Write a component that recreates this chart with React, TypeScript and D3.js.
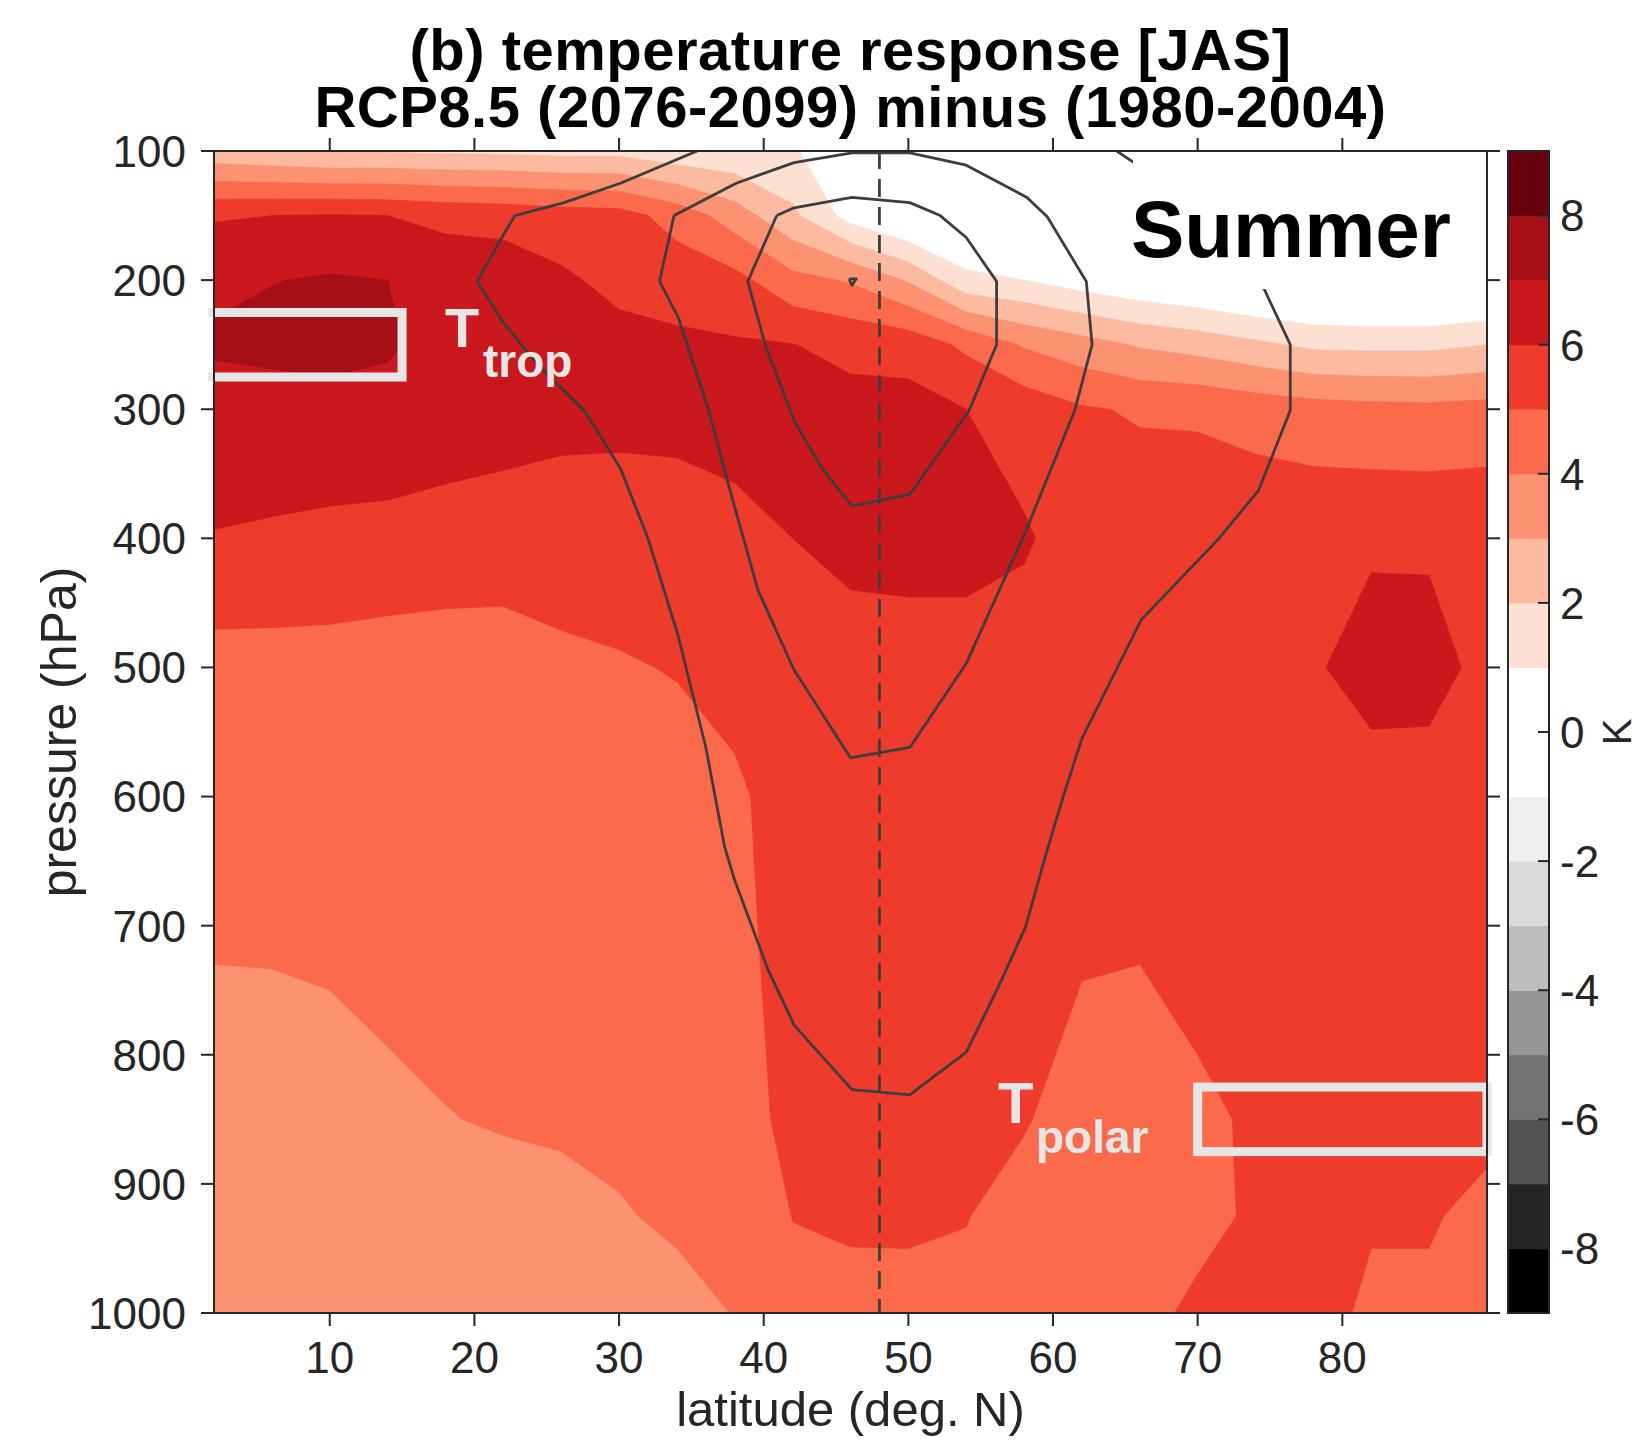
import React from 'react';
import * as d3 from 'd3';

const W = 1639;
const H = 1441;
const M = { left: 214, top: 151, right: 1487, bottom: 1313 };
const FONT = '"Liberation Sans", Arial, Helvetica, sans-serif';
const INK = '#262626';

// model grid (deg N) and pressure levels (hPa)
const lats = [2, 6, 10, 14, 18, 22, 26, 30, 34, 38, 42, 46, 50, 54, 58, 62, 66, 70, 74, 78, 82, 86, 90];
const levels = [100, 150, 200, 250, 300, 400, 500, 600, 700, 850, 925, 1000];

// temperature response (K), one column per latitude, top (100 hPa) to bottom (1000 hPa)
const fieldByLat = [
  [2.3, 5.9, 6.85, 7.1, 6.68, 5.95, 4.6, 4.35, 4.1, 3.6, 3.4, 3.3],
  [2.1, 6.0, 6.97, 7.3, 6.5, 5.9, 4.6, 4.35, 4.1, 3.65, 3.4, 3.3],
  [1.9, 6.05, 7.1, 7.4, 6.6, 5.8, 4.6, 4.4, 4.15, 3.7, 3.4, 3.3],
  [1.9, 6.0, 7.0, 7.15, 6.6, 5.75, 4.5, 4.45, 4.2, 3.88, 3.5, 3.35],
  [1.85, 5.8, 6.5, 6.6, 6.55, 5.6, 4.5, 4.45, 4.25, 3.98, 3.6, 3.4],
  [1.8, 5.7, 6.5, 6.55, 6.45, 5.5, 4.55, 4.45, 4.3, 4.05, 3.75, 3.5],
  [1.7, 5.5, 6.15, 6.3, 6.28, 5.5, 4.8, 4.5, 4.35, 4.1, 3.8, 3.55],
  [1.7, 5.4, 5.75, 6.3, 6.25, 5.5, 4.92, 4.6, 4.4, 4.15, 3.95, 3.6],
  [1.3, 4.6, 5.6, 6.17, 6.3, 5.5, 5.05, 4.6, 4.45, 4.25, 4.1, 3.8],
  [1.2, 3.5, 5.3, 6.1, 6.4, 5.7, 5.3, 4.85, 4.7, 4.35, 4.2, 4.02],
  [1.1, 2.2, 4.3, 6.02, 6.4, 6.0, 5.6, 5.4, 5.45, 5.4, 5.02, 4.7],
  [0.3, 0.6, 3.9, 5.75, 6.3, 6.2, 5.7, 5.6, 5.6, 5.5, 5.07, 4.85],
  [-0.2, -0.3, 2.9, 5.6, 6.35, 6.25, 5.7, 5.6, 5.55, 5.4, 5.1, 4.8],
  [-0.2, -0.3, 1.25, 4.8, 6.0, 6.25, 5.7, 5.55, 5.5, 5.3, 5.02, 4.85],
  [-0.2, -0.3, 1.0, 3.9, 5.6, 6.1, 5.6, 5.5, 5.35, 5.05, 4.75, 4.5],
  [-0.2, -0.3, 0.5, 3.4, 5.1, 5.6, 5.6, 5.5, 5.12, 4.7, 4.5, 4.4],
  [-0.2, -0.3, 0.1, 2.9, 4.9, 5.6, 5.6, 5.5, 5.1, 4.6, 4.5, 4.7],
  [-0.2, -0.3, -0.2, 2.6, 4.85, 5.7, 5.6, 5.5, 5.3, 4.85, 4.7, 5.2],
  [-0.2, -0.3, -0.6, 2.2, 4.6, 5.75, 5.6, 5.5, 5.4, 5.1, 5.15, 5.3],
  [-0.2, -0.3, -0.8, 1.8, 4.4, 5.75, 5.85, 5.6, 5.5, 5.4, 5.3, 5.2],
  [-0.2, -0.3, -0.9, 1.75, 4.3, 5.8, 6.55, 5.4, 5.5, 5.35, 5.05, 4.9],
  [-0.2, -0.3, -0.9, 1.75, 4.25, 5.8, 6.5, 5.4, 5.5, 5.35, 5.05, 4.9],
  [-0.2, -0.3, -0.7, 2.0, 4.35, 5.8, 5.6, 5.5, 5.4, 5.15, 4.85, 4.7],
];

// colour levels
const binEdges = [-9, -8, -7, -6, -5, -4, -3, -2, -1, 0, 1, 2, 3, 4, 5, 6, 7, 8, 9];
const binColors = [
  '#000000', '#252525', '#525252', '#737373', '#969696', '#bdbdbd', '#d9d9d9', '#efefef', '#ffffff',
  '#ffffff', '#fee0d2', '#fcbba1', '#fc9272', '#fb6a4a', '#ef3b2c', '#cb181d', '#a50f15', '#67000d',
];

const xTicks = [10, 20, 30, 40, 50, 60, 70, 80];
const yTicks = [100, 200, 300, 400, 500, 600, 700, 800, 900, 1000];
const cbTicks = [-8, -6, -4, -2, 0, 2, 4, 6, 8];

// zonal wind contours [lat, hPa]
const jetOuter = [
  [35.4, 100], [30.1, 125], [26.2, 140], [22.8, 150], [21.9, 167], [20.2, 201], [22.0, 233], [24.5, 267],
  [27.6, 301], [30.1, 346], [32.0, 400], [34.1, 476], [36.0, 562], [37.3, 639], [38.0, 665], [39.2, 701],
  [40.3, 734], [42.1, 777], [46.1, 827], [50.1, 831], [54.0, 798], [56.2, 748], [58.1, 701], [59.4, 649],
  [60.7, 600], [62.0, 555], [66.1, 463], [71.4, 401], [74.2, 363], [76.4, 301], [76.4, 250], [74.6, 207],
  [72.5, 180], [69.5, 145], [65.6, 109], [64.4, 100],
];
const jetMiddle = [
  [33.8, 150], [38.1, 125], [42.1, 109], [46.1, 101.5], [50.1, 101.5], [54.0, 111], [58.2, 136], [59.6, 151],
  [62.3, 201], [62.7, 250], [61.5, 301], [58.1, 395], [54.0, 497], [50.1, 562], [46.0, 570], [42.1, 502],
  [39.6, 440], [37.6, 360], [36.2, 301], [34.1, 229], [32.8, 201], [33.8, 150],
];
const jetInner = [
  [40.9, 150], [42.1, 144], [46.1, 136], [50.1, 140], [52.2, 150], [54.0, 167], [56.1, 201], [56.1, 250],
  [54.2, 301], [50.1, 366], [46.1, 375], [44.0, 345], [42.1, 309], [40.1, 250], [38.9, 201], [40.9, 150],
];
const jetCore = [[45.9, 199], [46.4, 199], [46.1, 204], [45.9, 199]];
const jetLat = 48;

const tropBox = { lat0: 1.6, lat1: 15, p0: 225, p1: 275 };
const polarBox = { lat0: 70, lat1: 90, p0: 825, p1: 875 };

export default function App() {
  const x = d3.scaleLinear().domain([2, 90]).range([M.left, M.right]);
  const y = d3.scaleLinear().domain([100, 1000]).range([M.top, M.bottom]);
  const cb = d3.scaleLinear().domain([-9, 9]).range([M.bottom, M.top]);

  const nx = lats.length;
  const ny = levels.length;
  const values: number[] = new Array(nx * ny);
  for (let j = 0; j < ny; j++) {
    for (let i = 0; i < nx; i++) values[j * nx + i] = fieldByLat[i][j];
  }

  // grid coordinate -> data coordinate (values sit at cell centres)
  const interp = (arr: number[], g: number) => {
    const u = Math.max(0, Math.min(arr.length - 1, g - 0.5));
    const k = Math.min(arr.length - 2, Math.floor(u));
    return arr[k] + (u - k) * (arr[k + 1] - arr[k]);
  };
  const proj = d3.geoTransform({
    point: function (this: any, gx: number, gy: number) {
      this.stream.point(x(interp(lats, gx)), y(interp(levels, gy)));
    },
  });
  const geo = d3.geoPath(proj);
  const bands = d3.contours().size([nx, ny]).thresholds(binEdges.slice(0, -1))(values);

  const line = d3.line<number[]>().x((d) => x(d[0])).y((d) => y(d[1]));

  const tickLen = 13;

  return (
    <svg width={W} height={H} style={{ display: 'block', position: 'absolute', left: 0, top: 0, background: '#fff' }}>
      <defs>
        <clipPath id="plotClip">
          <rect x={M.left} y={M.top} width={M.right - M.left} height={M.bottom - M.top} />
        </clipPath>
      </defs>
      <rect x={0} y={0} width={W} height={H} fill="#fff" />

      {/* filled contours */}
      <g clipPath="url(#plotClip)">
        {bands.map((b, i) => (
          <path key={i} d={geo(b as any) || ''} fill={binColors[i]} stroke={binColors[i]} strokeWidth={0.6} />
        ))}
        {[jetOuter, jetMiddle, jetInner, jetCore].map((c, i) => (
          <path key={'j' + i} d={line(c) || ''} fill="none" stroke="#3d3d3d" strokeWidth={2.8} strokeLinejoin="round" />
        ))}
        <line x1={x(jetLat)} x2={x(jetLat)} y1={y(100)} y2={y(1000)} stroke="#3d3d3d" strokeWidth={2.8} strokeDasharray="18 10" />
      </g>

      {/* label box for Summer */}
      <rect x={1133} y={152} width={335} height={137} fill="#fff" />
      <text x={1451} y={257} textAnchor="end" fontFamily={FONT} fontWeight="bold" fontSize={80} fill="#000">Summer</text>

      {/* index boxes */}
      <path
        d={`M${x(tropBox.lat0)},${y(tropBox.p0)}H${x(tropBox.lat1)}V${y(tropBox.p1)}H${x(tropBox.lat0)}`}
        fill="none" stroke="#e6e6e6" strokeWidth={9}
      />
      <rect
        x={x(polarBox.lat0)} y={y(polarBox.p0)}
        width={x(polarBox.lat1) - x(polarBox.lat0)} height={y(polarBox.p1) - y(polarBox.p0)}
        fill="none" stroke="#e6e6e6" strokeWidth={9}
      />
      <text fontFamily={FONT} fontWeight="bold" fill="#e6e6e6">
        <tspan x={445} y={347} fontSize={56}>T</tspan>
        <tspan x={483} y={377} fontSize={46}>trop</tspan>
      </text>
      <text fontFamily={FONT} fontWeight="bold" fill="#e6e6e6">
        <tspan x={998} y={1123} fontSize={58}>T</tspan>
        <tspan x={1036} y={1153} fontSize={46}>polar</tspan>
      </text>

      {/* axes box */}
      <rect x={M.left} y={M.top} width={M.right - M.left} height={M.bottom - M.top} fill="none" stroke={INK} strokeWidth={2} />
      {xTicks.map((t) => (
        <g key={'x' + t}>
          <line x1={x(t)} x2={x(t)} y1={M.bottom} y2={M.bottom + tickLen} stroke={INK} strokeWidth={2} />
          <line x1={x(t)} x2={x(t)} y1={M.top} y2={M.top - tickLen} stroke={INK} strokeWidth={2} />
          <text x={x(t)} y={1373} textAnchor="middle" fontFamily={FONT} fontSize={44} fill={INK}>{t}</text>
        </g>
      ))}
      {yTicks.map((t) => (
        <g key={'y' + t}>
          <line x1={M.left} x2={M.left - tickLen} y1={y(t)} y2={y(t)} stroke={INK} strokeWidth={2} />
          <line x1={M.right} x2={M.right + tickLen} y1={y(t)} y2={y(t)} stroke={INK} strokeWidth={2} />
          <text x={186} y={y(t)} dy="0.36em" textAnchor="end" fontFamily={FONT} fontSize={44} fill={INK}>{t}</text>
        </g>
      ))}
      <text x={(M.left + M.right) / 2} y={1426} textAnchor="middle" fontFamily={FONT} fontSize={49} fill={INK}>latitude (deg. N)</text>
      <text transform={`translate(76,${(M.top + M.bottom) / 2}) rotate(-90)`} textAnchor="middle" fontFamily={FONT} fontSize={50} fill={INK}>pressure (hPa)</text>

      {/* title */}
      <text x={(M.left + M.right) / 2} y={70} textAnchor="middle" fontFamily={FONT} fontWeight="bold" fontSize={58} letterSpacing={0.5} fill="#000">(b) temperature response [JAS]</text>
      <text x={(M.left + M.right) / 2} y={127} textAnchor="middle" fontFamily={FONT} fontWeight="bold" fontSize={58} letterSpacing={0.5} fill="#000">RCP8.5 (2076-2099) minus (1980-2004)</text>

      {/* colorbar */}
      {binColors.map((c, i) => (
        <rect key={'cb' + i} x={1508} y={cb(binEdges[i + 1])} width={41} height={cb(binEdges[i]) - cb(binEdges[i + 1]) + 0.5} fill={c} />
      ))}
      <rect x={1508} y={M.top} width={41} height={M.bottom - M.top} fill="none" stroke={INK} strokeWidth={2} />
      {cbTicks.map((t) => (
        <g key={'c' + t}>
          <line x1={1549} x2={1538} y1={cb(t)} y2={cb(t)} stroke={INK} strokeWidth={2} />
          <text x={1560} y={cb(t)} dy="0.36em" fontFamily={FONT} fontSize={44} fill={INK}>{t}</text>
        </g>
      ))}
      <text transform={`translate(1631,${cb(0)}) rotate(-90)`} textAnchor="middle" fontFamily={FONT} fontSize={40} fill={INK}>K</text>
    </svg>
  );
}
